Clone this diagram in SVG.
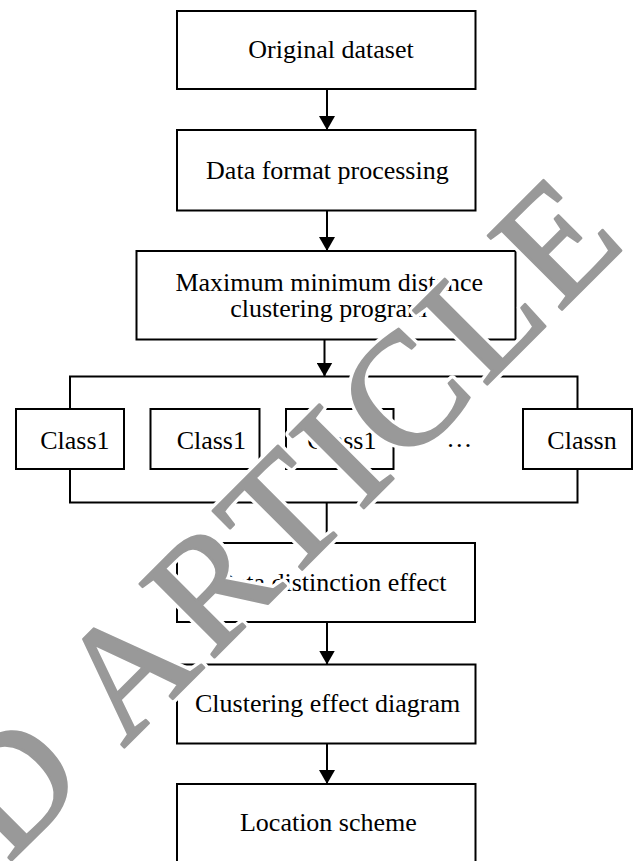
<svg xmlns="http://www.w3.org/2000/svg" width="633" height="861" viewBox="0 0 633 861">
<style>
.box{fill:#fff;stroke:#000;stroke-width:2}
.ln{fill:none;stroke:#000;stroke-width:2}
.t{font-family:"Liberation Serif","Times New Roman",serif;font-size:26px;fill:#000;text-anchor:middle}
.wm{font-family:"Liberation Serif","Times New Roman",serif;font-size:160px;letter-spacing:8px}
.halo{fill:#fff;stroke:#fff;stroke-width:9;stroke-linejoin:round}
.ink{fill:#999;stroke:#999;stroke-width:2.5;stroke-linejoin:round}
</style>
<defs>
<marker id="ah" viewBox="0 0 14 16" markerWidth="14" markerHeight="16" refX="14" refY="8" orient="auto" markerUnits="userSpaceOnUse">
<path d="M0,0 L14,8 L0,16 Z" fill="#000"/>
</marker>
<text id="wmt" class="wm" x="-1062" y="0">RETRACTED ARTICLE</text>
</defs>
<rect width="633" height="861" fill="#fff"/>
<g id="connectors">
<line class="ln" x1="327" y1="89" x2="327" y2="130" marker-end="url(#ah)"/>
<line class="ln" x1="327" y1="210.5" x2="327" y2="251" marker-end="url(#ah)"/>
<line class="ln" x1="324.5" y1="339.5" x2="324.5" y2="376.5" marker-end="url(#ah)"/>
<path class="ln" d="M70,409 V376.5 H577.5 V409"/>
<path class="ln" d="M70,469 V502.5 H577.5 V469"/>
<line class="ln" x1="326.7" y1="502.5" x2="326.7" y2="543"/>
<line class="ln" x1="327" y1="622" x2="327" y2="664.5" marker-end="url(#ah)"/>
<line class="ln" x1="327" y1="743.5" x2="327" y2="784" marker-end="url(#ah)"/>
</g>
<g id="n1"><rect class="box" x="177" y="11" width="298.5" height="78"/><text class="t" x="331" y="58.3">Original dataset</text></g>
<g id="n2"><rect class="box" x="177" y="130" width="298.5" height="80.5"/><text class="t" x="327.4" y="179">Data format processing</text></g>
<g id="n3"><rect class="box" x="136.5" y="251" width="379" height="88.5"/><text class="t" x="329.2" y="290.7">Maximum minimum distance</text><text class="t" x="328.7" y="316.7">clustering program</text></g>
<g id="c1"><rect class="box" x="16" y="409" width="108" height="60"/><text class="t" x="74.9" y="449">Class1</text></g>
<g id="c2"><rect class="box" x="150.5" y="409" width="109" height="60"/><text class="t" x="211.3" y="449">Class1</text></g>
<g id="c3"><rect class="box" x="286" y="409" width="107.5" height="60"/><text class="t" x="341.8" y="449">Class1</text></g>
<g id="dots"><text class="t" x="459.3" y="446.5">…</text></g>
<g id="cn"><rect class="box" x="523" y="409" width="109" height="60"/><text class="t" x="582" y="449">Classn</text></g>
<g id="n4"><rect class="box" x="177" y="543" width="298" height="79"/><text class="t" x="331.2" y="590.7">Data distinction effect</text></g>
<g id="n5"><rect class="box" x="177" y="664.5" width="298.5" height="79"/><text class="t" x="327.6" y="711.7">Clustering effect diagram</text></g>
<g id="n6"><rect class="box" x="177" y="784" width="298.5" height="80"/><text class="t" x="328.4" y="830.7">Location scheme</text></g>
<g id="watermark" transform="translate(129.3,742.5) rotate(-45)">
<use href="#wmt" class="halo"/>
<use href="#wmt" class="ink"/>
</g>
</svg>
